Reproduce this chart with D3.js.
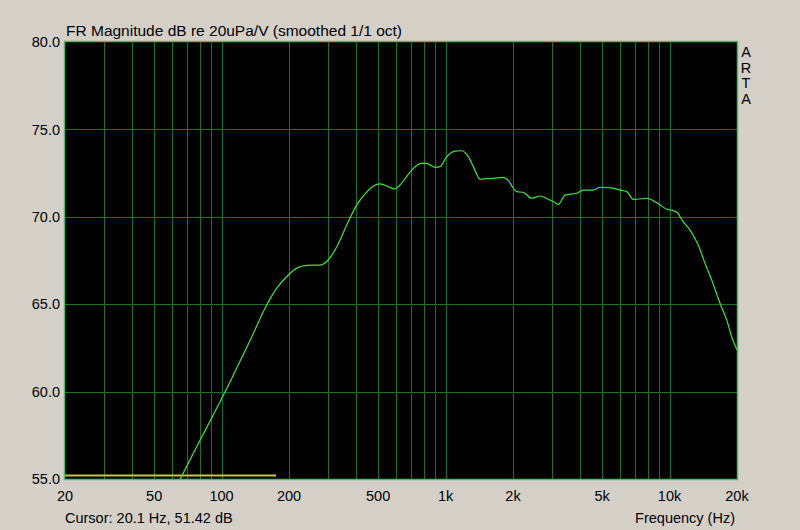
<!DOCTYPE html>
<html><head><meta charset="utf-8">
<script src="https://cdn.jsdelivr.net/npm/d3@7"></script>
<style>
html,body{margin:0;padding:0;background:#d4d0c8;}
svg{display:block;}
text{font-family:"Liberation Sans",Arial,sans-serif;fill:#000;}
</style></head><body>
<script>
// ---- data ----
const freqHz = [60,65.4,72,80,90,100,110,121,136,159,176,195,216,240,275,294,327,362,401,440,475,509,560,594,626,670,718,782,822,897,944,1012,1102,1181,1263,1330,1425,1530,1634,1811,1896,2077,2223,2424,2639,2875,3050,3185,3414,3849,4120,4566,4890,5515,6010,6438,6890,7633,7900,8762,9709,10390,10930,11130,12330,13430,14390,15420,16790,17990,18930,20000];
const magDb  = [54.05,55.0,56.05,57.2,58.45,59.6,60.65,61.75,63.1,64.95,65.9,66.57,67.05,67.22,67.24,67.43,68.29,69.53,70.67,71.35,71.75,71.88,71.7,71.59,71.82,72.3,72.77,73.06,73.06,72.83,72.87,73.44,73.76,73.78,73.44,72.87,72.16,72.18,72.20,72.26,72.1,71.44,71.40,71.06,71.19,71.0,70.85,70.71,71.24,71.35,71.53,71.53,71.69,71.66,71.53,71.44,71.0,71.04,71.06,70.81,70.43,70.35,70.2,70.0,69.24,68.39,67.34,66.38,65.05,64.1,63.14,62.38];
const markerHz = [20,175];
const markerDb = [55.2,55.2];
const yTicks = [55,60,65,70,75,80];
const xTickVals = [20,50,100,200,500,1000,2000,5000,10000,20000];
const xTickLabels = ["20","50","100","200","500","1k","2k","5k","10k","20k"];
const titleText = "FR Magnitude dB re 20uPa/V (smoothed 1/1 oct)";
const cursorText = "Cursor: 20.1 Hz, 51.42 dB";
const xAxisTitle = "Frequency (Hz)";
const brand = ["A","R","T","A"];

// ---- layout ----
const W=800,H=530;
const L=65,R=737,T=42,B=479;
const svg=d3.select("body").append("svg").attr("width",W).attr("height",H);
const x=d3.scaleLog().domain([20,20000]).range([L,R]);
const y=d3.scaleLinear().domain([55,80]).range([B,T]);

svg.append("rect").attr("x",L).attr("y",T).attr("width",R-L).attr("height",B-T).attr("fill","#000");

// vertical grid: 1..9 per decade
const vgrid=[];
[10,100,1000,10000].forEach(d=>{for(let k=1;k<=9;k++){const f=d*k; if(f>20&&f<20000) vgrid.push(f);}});
svg.append("g").selectAll("line").data(vgrid).join("line")
  .attr("x1",d=>Math.round(x(d))+0.5).attr("x2",d=>Math.round(x(d))+0.5)
  .attr("y1",T).attr("y2",B).attr("stroke","#1b7029").attr("stroke-width",1);
svg.append("g").selectAll("line").data(yTicks.filter(v=>v>55&&v<80)).join("line")
  .attr("x1",L).attr("x2",R)
  .attr("y1",d=>Math.round(y(d))+0.5).attr("y2",d=>Math.round(y(d))+0.5)
  .attr("stroke","#1b7029").attr("stroke-width",1);

svg.append("defs").append("clipPath").attr("id","clip").append("rect")
  .attr("x",L).attr("y",T).attr("width",R-L).attr("height",B-T);

// marker line
svg.append("line").attr("x1",x(markerHz[0])).attr("x2",x(markerHz[1]))
  .attr("y1",y(markerDb[0])).attr("y2",y(markerDb[1]))
  .attr("stroke","#c8c048").attr("stroke-width",2);

// curve
const pts=freqHz.map((f,i)=>[f,magDb[i]]);
svg.append("path").datum(pts).attr("clip-path","url(#clip)")
  .attr("d",d3.line().x(d=>x(d[0])).y(d=>y(d[1])).curve(d3.curveMonotoneX))
  .attr("fill","none").attr("stroke","#3ee43e").attr("stroke-width",1.2);

// frame
svg.append("rect").attr("x",L-0.5).attr("y",T-0.5).attr("width",R-L+1).attr("height",B-T+1)
  .attr("fill","none").attr("stroke","#4fb86a").attr("stroke-width",1.5);

// y axis labels
svg.append("g").selectAll("text").data(yTicks).join("text")
  .attr("x",L-5).attr("y",d=>y(d)).attr("dy","0.36em").attr("text-anchor","end")
  .attr("font-size",14.5).text(d=>d.toFixed(1));
// x axis labels
svg.append("g").selectAll("text").data(xTickVals).join("text")
  .attr("x",d=>x(d)).attr("y",501).attr("text-anchor","middle")
  .attr("font-size",14.5).text((d,i)=>xTickLabels[i]);

svg.append("text").attr("x",L+1).attr("y",36).attr("font-size",15.5).text(titleText);
svg.append("text").attr("x",L).attr("y",523).attr("font-size",14.5).text(cursorText);
svg.append("text").attr("x",R-2).attr("y",523).attr("text-anchor","end").attr("font-size",14.5).text(xAxisTitle);
svg.append("g").selectAll("text").data(brand).join("text")
  .attr("x",746).attr("y",(d,i)=>57+i*15.5).attr("text-anchor","middle").attr("font-size",14.5).text(d=>d);
</script></body></html>
